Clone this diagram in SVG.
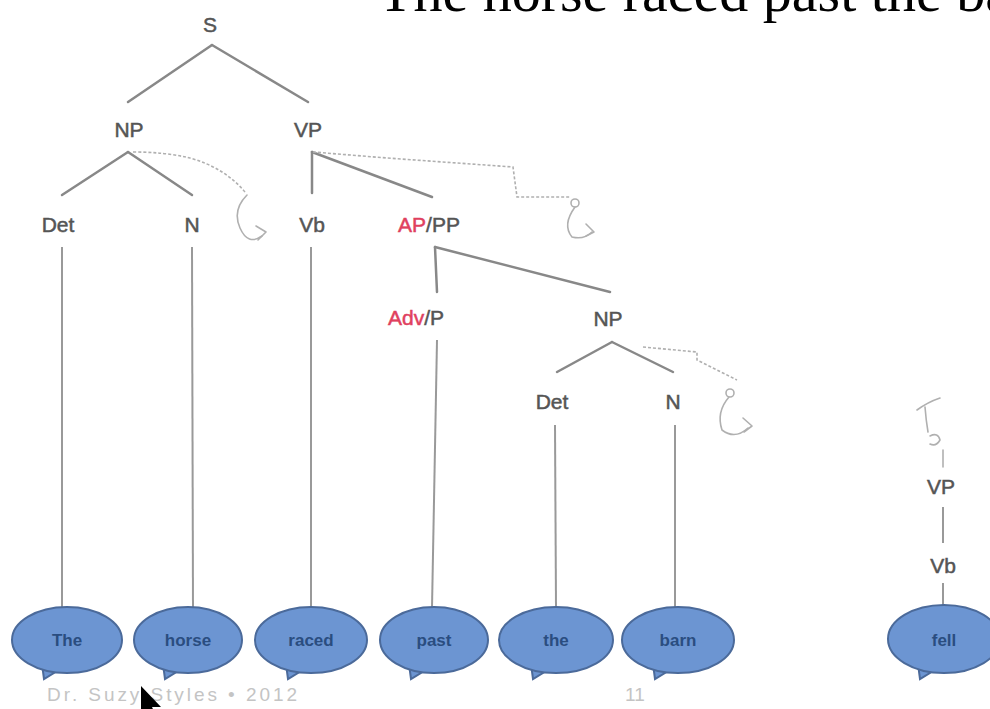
<svg xmlns="http://www.w3.org/2000/svg" width="990" height="709" viewBox="0 0 990 709">
<style>
.title{font-family:"Liberation Serif","Times New Roman",serif;font-size:58px;fill:#000}
.lbl{font-family:"Liberation Sans",Arial,sans-serif;font-size:21px;fill:#555;stroke:#555;stroke-width:0.5;text-anchor:middle}
.red{fill:#e0405e;stroke:#e0405e}
.br{stroke:#888;stroke-width:2.5;fill:none;stroke-linecap:round}
.vl{stroke:#999;stroke-width:2;fill:none}
.sq{stroke:#b0b0b0;stroke-width:1.6;fill:none;stroke-linecap:round;stroke-linejoin:round}
.sqd{stroke:#b0b0b0;stroke-width:1.6;fill:none;stroke-dasharray:3 2}
.bub{fill:#6c95d2;stroke:#4b6a9a;stroke-width:2}
.word{font-family:"Liberation Sans",Arial,sans-serif;font-size:17px;font-weight:bold;fill:#2a4d80;text-anchor:middle}
.foot{font-family:"Liberation Sans",Arial,sans-serif;font-size:19px;fill:#c4c4c4}
</style>
<rect width="990" height="709" fill="#fff"/>
<text class="title" x="378" y="11">The horse raced past the ba</text>

<g id="connectors">
<line class="br" x1="212" y1="45" x2="128" y2="102"/>
<line class="br" x1="212" y1="45" x2="308" y2="102"/>
<line class="br" x1="128" y1="152" x2="62" y2="195"/>
<line class="br" x1="128" y1="152" x2="192" y2="195"/>
<line class="br" x1="312" y1="152" x2="312" y2="193"/>
<line class="br" x1="312" y1="152" x2="432" y2="197"/>
<line class="br" x1="435" y1="247" x2="437" y2="292"/>
<line class="br" x1="435" y1="247" x2="610" y2="292"/>
<line class="br" x1="612" y1="342" x2="557" y2="372"/>
<line class="br" x1="612" y1="342" x2="673" y2="372"/>
<line class="vl" x1="62" y1="247" x2="62" y2="608"/>
<line class="vl" x1="192" y1="247" x2="193" y2="608"/>
<line class="vl" x1="311" y1="247" x2="311" y2="608"/>
<line class="vl" x1="437" y1="340" x2="432" y2="608"/>
<line class="vl" x1="555" y1="425" x2="556" y2="608"/>
<line class="vl" x1="675" y1="425" x2="675" y2="608"/>
<line class="vl" x1="943" y1="507" x2="943" y2="543" stroke-width="1.5"/>
<line class="vl" x1="943" y1="583" x2="943" y2="606" stroke-width="1.5"/>
<path class="sqd" d="M133,152 Q165,152 190,158 Q225,168 245,192"/>
<path class="sq" d="M247,195 Q232,210 240,228 Q248,246 262,236"/>
<path class="sq" d="M256,226 L266,232 L258,240" fill="#b0b0b0"/>
<path class="sqd" d="M313,152 L387,158 L457,163 L513,167 L517,197 L570,197"/>
<circle class="sq" cx="575" cy="203" r="4"/>
<path class="sq" d="M575,207 Q562,225 572,237 Q584,240 592,232"/>
<path class="sq" d="M586,224 L594,232 L586,236" fill="#b0b0b0"/>
<path class="sqd" d="M643,347 L697,352 L697,360 L737,380" stroke="#999"/>
<circle class="sq" cx="730" cy="393" r="4" stroke="#999"/>
<path class="sq" stroke="#999" d="M729,397 Q716,412 722,430 Q735,440 748,428"/>
<path class="sq" stroke="#777" d="M743,418 L752,426 L744,432" fill="#777"/>
<path class="sq" stroke="#888" stroke-width="2.2" d="M917,410 Q928,402 940,398 M925,407 Q926,420 928,432 M930,436 Q938,432 940,440 Q936,447 930,444 M943,450 L943,467"/>
</g>

<g id="S"><text class="lbl" x="210" y="32">S</text></g>
<g id="NP1"><text class="lbl" x="129" y="137">NP</text></g>
<g id="VP1"><text class="lbl" x="308" y="137">VP</text></g>
<g id="Det1"><text class="lbl" x="58" y="232">Det</text></g>
<g id="N1"><text class="lbl" x="192" y="232">N</text></g>
<g id="Vb1"><text class="lbl" x="312" y="232">Vb</text></g>
<g id="APPP"><text class="lbl" x="429" y="232"><tspan class="red">AP</tspan>/PP</text></g>
<g id="AdvP"><text class="lbl" x="416" y="325"><tspan class="red">Adv</tspan>/P</text></g>
<g id="NP2"><text class="lbl" x="608" y="326">NP</text></g>
<g id="Det2"><text class="lbl" x="552" y="409">Det</text></g>
<g id="N2"><text class="lbl" x="673" y="409">N</text></g>
<g id="VP2"><text class="lbl" x="941" y="494">VP</text></g>
<g id="Vb2"><text class="lbl" x="943" y="573">Vb</text></g>

<g id="w-The"><polygon class="bub" points="42,664 62,668 44,679"/><ellipse class="bub" cx="67" cy="640" rx="55" ry="33"/><text class="word" x="67" y="646">The</text></g>
<g id="w-horse"><polygon class="bub" points="163,664 183,668 165,679"/><ellipse class="bub" cx="188" cy="640" rx="54" ry="33"/><text class="word" x="188" y="646">horse</text></g>
<g id="w-raced"><polygon class="bub" points="286,664 306,668 288,679"/><ellipse class="bub" cx="311" cy="640" rx="56" ry="33"/><text class="word" x="311" y="646">raced</text></g>
<g id="w-past"><polygon class="bub" points="409,664 429,668 411,679"/><ellipse class="bub" cx="434" cy="640" rx="54" ry="33"/><text class="word" x="434" y="646">past</text></g>
<g id="w-the"><polygon class="bub" points="531,664 551,668 533,679"/><ellipse class="bub" cx="556" cy="640" rx="57" ry="33"/><text class="word" x="556" y="646">the</text></g>
<g id="w-barn"><polygon class="bub" points="653,664 673,668 655,679"/><ellipse class="bub" cx="678" cy="640" rx="56" ry="33"/><text class="word" x="678" y="646">barn</text></g>
<g id="w-fell"><polygon class="bub" points="918,664 938,668 920,679"/><ellipse class="bub" cx="944" cy="639" rx="56" ry="34"/><text class="word" x="944" y="646">fell</text></g>

<text class="foot" x="47" y="701" textLength="250" lengthAdjust="spacing">Dr. Suzy Styles • 2012</text>
<text class="foot" x="625" y="701">11</text>
<polygon points="141,686 141,715 147,709 152,720 157,718 152,707 161,707" fill="#000"/>
</svg>
